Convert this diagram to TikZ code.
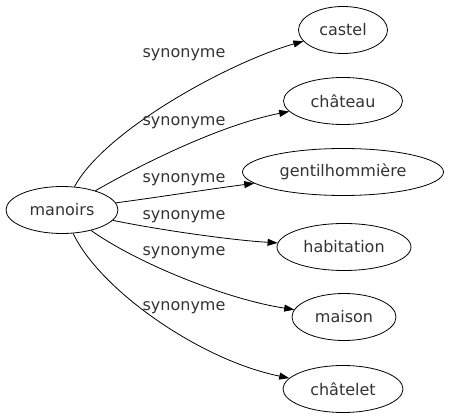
\documentclass[tikz,border=0pt]{standalone}
\usepackage{fontspec}
\setmainfont{DejaVu Sans}
\usetikzlibrary{shapes.geometric,arrows.meta}
\begin{document}
\begin{tikzpicture}[x=1pt,y=-1pt,
  word/.style={draw, ellipse, line width=0.8pt, inner sep=0pt, minimum height=47pt, font=\fontsize{16}{19}\selectfont, text=black!80},
  lab/.style={font=\fontsize{16}{19}\selectfont, text=black!80, inner sep=0pt},
  edge/.style={line width=0.8pt, -{Triangle[length=10pt,width=7pt]}}]
\useasboundingbox (0,0) rectangle (450,419);
\node[word, minimum width=112pt] (m) at (62,210) {manoirs};
\node[word, minimum width=89pt] (c1) at (343,30) {castel};
\node[word, minimum width=119pt] (c2) at (343,101) {château};
\node[word, minimum width=201pt] (c3) at (343,172) {gentilhommière};
\node[word, minimum width=134pt] (c4) at (344,247) {habitation};
\node[word, minimum width=104pt] (c5) at (344,317) {maison};
\node[word, minimum width=120pt] (c6) at (343,389) {châtelet};
\draw[edge] (m) .. controls (105,130) and (230,62) .. (c1);
\draw[edge] (m) .. controls (140,165) and (220,125) .. (c2);
\draw[edge] (m) .. controls (160,197) and (210,189) .. (c3);
\draw[edge] (m) .. controls (160,230) and (230,240) .. (c4);
\draw[edge] (m) .. controls (140,265) and (230,300) .. (c5);
\draw[edge] (m) .. controls (100,290) and (200,360) .. (c6);
\node[lab] (l1) at (184,55) {synonyme};
\node[lab] (l2) at (184,123) {synonyme};
\node[lab] (l3) at (184,180) {synonyme};
\node[lab] (l4) at (184,217) {synonyme};
\node[lab] (l5) at (184,253) {synonyme};
\node[lab] (l6) at (184,308) {synonyme};
\end{tikzpicture}
\end{document}
